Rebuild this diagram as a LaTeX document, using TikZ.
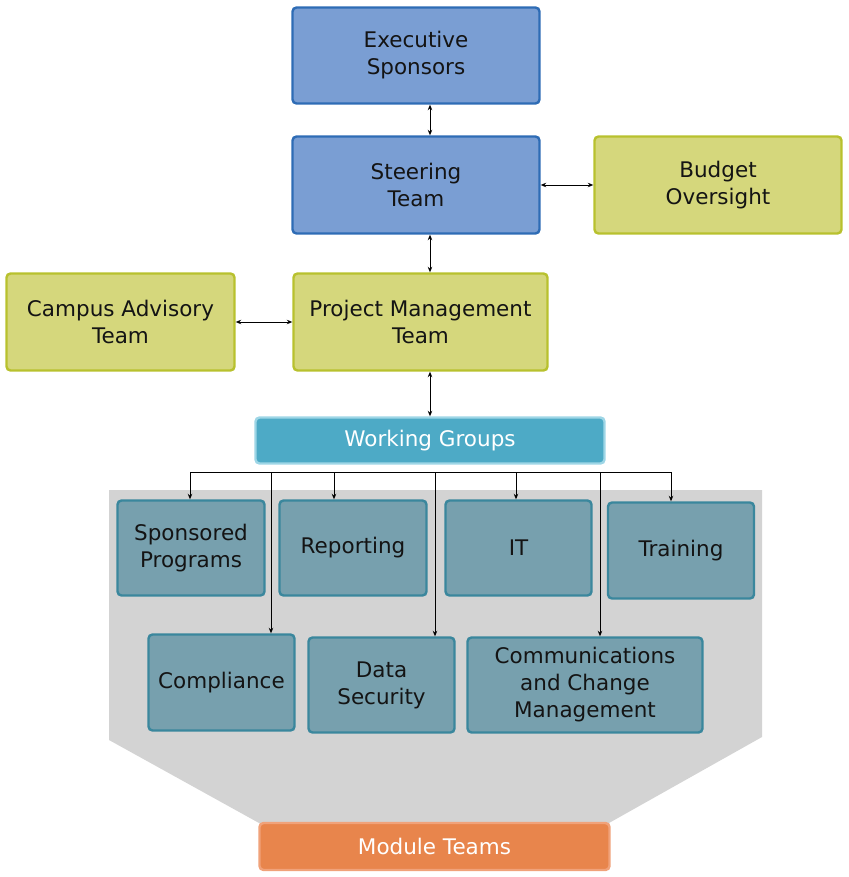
\documentclass[tikz,border=0pt]{standalone}
\usepackage{fontspec}
\setmainfont{DejaVu Sans}
\usetikzlibrary{arrows.meta}
\definecolor{bluefill}{HTML}{7A9ED3}
\definecolor{blueline}{HTML}{2E6CB5}
\definecolor{yelfill}{HTML}{D5D77C}
\definecolor{yelline}{HTML}{B8C12E}
\definecolor{wgfill}{HTML}{4DAAC6}
\definecolor{wgline}{HTML}{9ED6E6}
\definecolor{tealfill}{HTML}{77A0AE}
\definecolor{tealline}{HTML}{3A879D}
\definecolor{grayreg}{HTML}{D3D3D3}
\definecolor{orfill}{HTML}{E8854C}
\definecolor{orline}{HTML}{F0A27A}
\tikzset{
  box/.style={rectangle, rounded corners=4pt, line width=2.4pt, inner sep=0pt, align=center,
    font=\fontsize{21.5}{27}\selectfont, text=black!92},
  bluebox/.style={box, fill=bluefill, draw=blueline},
  yelbox/.style={box, fill=yelfill, draw=yelline},
  wgbox/.style={box, fill=wgfill, draw=wgline, text=white},
  tealbox/.style={box, fill=tealfill, draw=tealline},
  orbox/.style={box, fill=orfill, draw=orline, text=white},
  dbl/.style={line width=0.9pt, {Stealth[length=5.5pt,width=4.5pt]}-{Stealth[length=5.5pt,width=4.5pt]}},
  arr/.style={line width=0.9pt, -{Stealth[length=5.5pt,width=4.5pt]}},
  ln/.style={line width=0.9pt}
}
\begin{document}
\begin{tikzpicture}[x=1pt,y=-1pt]
\useasboundingbox (0,0) rectangle (848,877);
% gray region
\fill[grayreg] (109,490) -- (762,490) -- (762,737) -- (609,823) -- (259,823) -- (109,740) -- cycle;

\node[bluebox, minimum width=247, minimum height=96] (exec) at (416,55.5) {Executive\\Sponsors};
\node[bluebox, minimum width=247, minimum height=97] (steer) at (416,185) {Steering\\Team};
\node[yelbox, minimum width=247, minimum height=97] (budget) at (718,185) {Budget\\Oversight};
\node[yelbox, minimum width=228, minimum height=97] (campus) at (120.5,322) {Campus Advisory\\Team};
\node[yelbox, minimum width=254, minimum height=97] (pm) at (420.5,322) {Project Management\\Team};
\node[wgbox, minimum width=349, minimum height=46] (wg) at (430,440.5) {Working Groups};

\node[tealbox, minimum width=147, minimum height=95] (sp) at (191,548) {Sponsored\\Programs};
\node[tealbox, minimum width=147, minimum height=95] (rep) at (353,548) {Reporting};
\node[tealbox, minimum width=146, minimum height=95] (it) at (518.5,548) {IT};
\node[tealbox, minimum width=146, minimum height=96] (tr) at (681,550.5) {Training};
\node[tealbox, minimum width=146, minimum height=96] (comp) at (221.5,682.5) {Compliance};
\node[tealbox, minimum width=146, minimum height=95] (ds) at (381.5,685) {Data\\Security};
\node[tealbox, minimum width=235, minimum height=95] (cm) at (585,685) {Communications\\and Change\\Management};
\node[orbox, minimum width=350, minimum height=47] (mod) at (434.5,846.5) {Module Teams};

\draw[dbl] (exec.south -| 430,0) -- (steer.north -| 430,0);
\draw[dbl] (steer.east) -- (budget.west);
\draw[dbl] (steer.south -| 430,0) -- (pm.north -| 430,0);
\draw[dbl] (campus.east) -- (pm.west);
\draw[dbl] (pm.south -| 430,0) -- (wg.north -| 430,0);

% bus
\coordinate (b1) at (190,472);
\coordinate (b2) at (271,472);
\coordinate (b3) at (334,472);
\coordinate (b4) at (435,472);
\coordinate (b5) at (516,472);
\coordinate (b6) at (600,472);
\coordinate (b7) at (671,472);
\draw[ln] (b1) -- (b7);
\draw[arr] (b1) -- (b1 |- sp.north);
\draw[arr] (b3) -- (b3 |- rep.north);
\draw[arr] (b5) -- (b5 |- it.north);
\draw[arr] (b7) -- (b7 |- tr.north);
\draw[arr] (b2) -- (b2 |- comp.north);
\draw[arr] (b4) -- (b4 |- ds.north);
\draw[arr] (b6) -- (b6 |- cm.north);
\end{tikzpicture}
\end{document}
